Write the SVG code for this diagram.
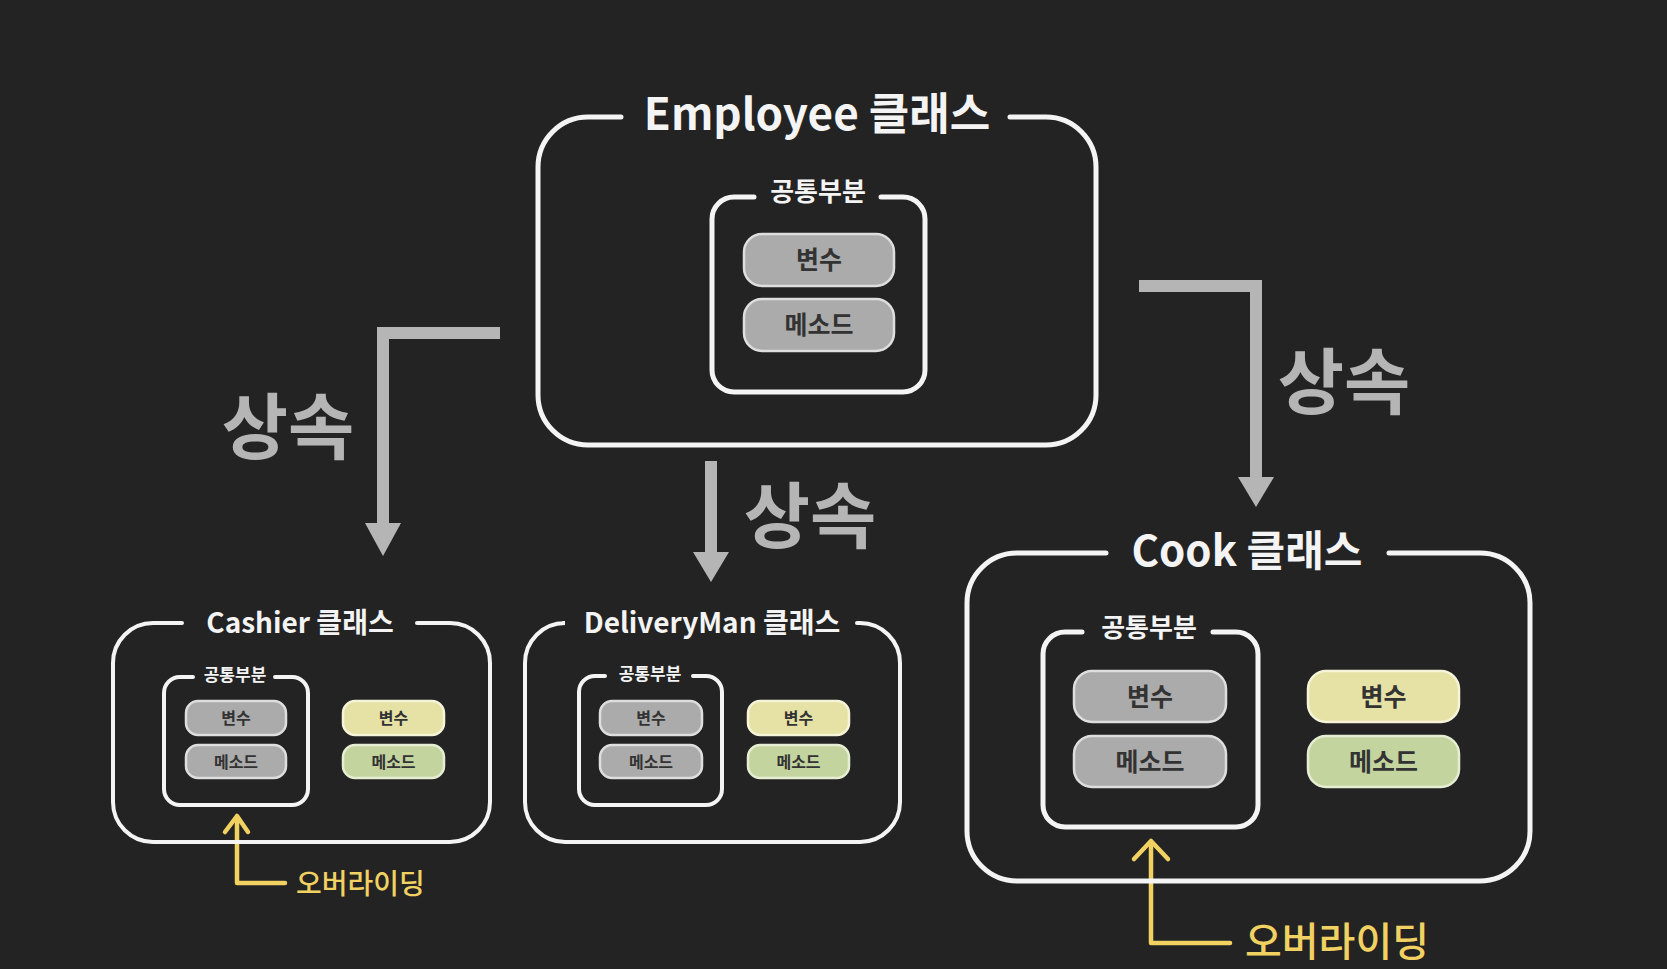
<svg xmlns="http://www.w3.org/2000/svg" width="1667" height="969" viewBox="0 0 1667 969">
<defs>
<style>
.bg{fill:#232323}
.frame{fill:none;stroke:#f4f4f4;stroke-width:5;stroke-linecap:round}
.frameS{fill:none;stroke:#f4f4f4;stroke-width:4;stroke-linecap:round}
.t{font-family:"Noto Sans CJK KR","Noto Sans",sans-serif;font-weight:700;fill:#f4f4f4;text-anchor:middle}
.pg{fill:#ababab;stroke:#dedede;stroke-width:2.5}
.py{fill:#e6e2a6;stroke:#f5f3d8;stroke-width:2.5}
.pgr{fill:#c4d49f;stroke:#e5edd2;stroke-width:2.5}
.pt{font-family:"Noto Sans CJK KR","Noto Sans",sans-serif;font-weight:700;fill:#333333;text-anchor:middle;dominant-baseline:central}
.conn{fill:none;stroke:#b5b5b5;stroke-width:12}
.head{fill:#b5b5b5}
.inh{font-family:"Noto Sans CJK KR","Noto Sans",sans-serif;font-weight:700;fill:#b5b5b5;text-anchor:middle;dominant-baseline:central;font-size:72px}
.ov{fill:none;stroke:#f1d162;stroke-width:4.5;stroke-linecap:round;stroke-linejoin:round}
.ovt{font-family:"Noto Sans CJK KR","Noto Sans",sans-serif;font-weight:500;fill:#f1d162;dominant-baseline:central}
</style>
</defs>
<rect class="bg" x="0" y="0" width="1667" height="969"/>

<g id="connectors">
  <path class="conn" d="M500,333 H383 V525"/>
  <polygon class="head" points="365,523 401,523 383,556"/>
  <path class="conn" d="M711,461 V554"/>
  <polygon class="head" points="693,552 729,552 711,582"/>
  <path class="conn" d="M1139,286 H1256 V479"/>
  <polygon class="head" points="1238,477 1274,477 1256,507"/>
  <text class="inh" x="288" y="421">상속</text>
  <text class="inh" x="810" y="510">상속</text>
  <text class="inh" x="1344" y="376">상속</text>
  <path class="ov" d="M237,817 V883 H285"/>
  <path class="ov" d="M225,832 L237,816 L248,832"/>
  <text class="ovt" x="296" y="882" font-size="28">오버라이딩</text>
  <path class="ov" d="M1151,842 V943 H1230"/>
  <path class="ov" d="M1134,859 L1151,841 L1168,859"/>
  <text class="ovt" x="1245" y="939" font-size="40">오버라이딩</text>
</g>

<g id="employee">
  <path class="frame" d="M1010,117 H1046 A50,50 0 0 1 1096,167 V395 A50,50 0 0 1 1046,445 H588 A50,50 0 0 1 538,395 V167 A50,50 0 0 1 588,117 H621"/>
  <text class="t" x="817" y="130" font-size="44">Employee 클래스</text>
  <path class="frame" d="M881,197 H903 A22,22 0 0 1 925,219 V370 A22,22 0 0 1 903,392 H734 A22,22 0 0 1 712,370 V219 A22,22 0 0 1 734,197 H754"/>
  <text class="t" x="818" y="201" font-size="26">공통부분</text>
  <rect class="pg" x="744" y="234" width="150" height="52" rx="18"/>
  <text class="pt" x="819" y="258" font-size="25">변수</text>
  <rect class="pg" x="744" y="299" width="150" height="52" rx="18"/>
  <text class="pt" x="819" y="323" font-size="25">메소드</text>
</g>

<g id="cashier">
  <path class="frameS" d="M417,623 H450 A40,40 0 0 1 490,663 V802 A40,40 0 0 1 450,842 H153 A40,40 0 0 1 113,802 V663 A40,40 0 0 1 153,623 H182"/>
  <text class="t" x="300" y="633" font-size="28">Cashier 클래스</text>
  <path class="frameS" d="M275,677 H292 A16,16 0 0 1 308,693 V789 A16,16 0 0 1 292,805 H180 A16,16 0 0 1 164,789 V693 A16,16 0 0 1 180,677 H193"/>
  <text class="t" x="235" y="681" font-size="17">공통부분</text>
  <rect class="pg" x="186" y="701" width="100" height="34" rx="12"/>
  <text class="pt" x="236" y="717" font-size="16">변수</text>
  <rect class="pg" x="186" y="745" width="100" height="33" rx="12"/>
  <text class="pt" x="236" y="760.5" font-size="16">메소드</text>
  <rect class="py" x="343" y="701" width="101" height="34" rx="12"/>
  <text class="pt" x="393.5" y="717" font-size="16">변수</text>
  <rect class="pgr" x="343" y="745" width="101" height="33" rx="12"/>
  <text class="pt" x="393.5" y="760.5" font-size="16">메소드</text>
</g>

<g id="deliveryman">
  <path class="frameS" d="M857,623 H860 A40,40 0 0 1 900,663 V802 A40,40 0 0 1 860,842 H565 A40,40 0 0 1 525,802 V663 A40,40 0 0 1 565,623 H563"/>
  <text class="t" x="712" y="633" font-size="28">DeliveryMan 클래스</text>
  <path class="frameS" d="M693,676 H706 A16,16 0 0 1 722,692 V789 A16,16 0 0 1 706,805 H595 A16,16 0 0 1 579,789 V692 A16,16 0 0 1 595,676 H605"/>
  <text class="t" x="650" y="680" font-size="17">공통부분</text>
  <rect class="pg" x="600" y="701" width="102" height="34" rx="12"/>
  <text class="pt" x="651" y="717" font-size="16">변수</text>
  <rect class="pg" x="600" y="745" width="102" height="33" rx="12"/>
  <text class="pt" x="651" y="760.5" font-size="16">메소드</text>
  <rect class="py" x="748" y="701" width="101" height="34" rx="12"/>
  <text class="pt" x="798.5" y="717" font-size="16">변수</text>
  <rect class="pgr" x="748" y="745" width="101" height="33" rx="12"/>
  <text class="pt" x="798.5" y="760.5" font-size="16">메소드</text>
</g>

<g id="cook">
  <path class="frame" d="M1389,553 H1480 A50,50 0 0 1 1530,603 V831 A50,50 0 0 1 1480,881 H1017 A50,50 0 0 1 967,831 V603 A50,50 0 0 1 1017,553 H1106"/>
  <text class="t" x="1247" y="566" font-size="42">Cook 클래스</text>
  <path class="frame" d="M1213,632 H1236 A22,22 0 0 1 1258,654 V805 A22,22 0 0 1 1236,827 H1065 A22,22 0 0 1 1043,805 V654 A22,22 0 0 1 1065,632 H1082"/>
  <text class="t" x="1149" y="637" font-size="26">공통부분</text>
  <rect class="pg" x="1074" y="671" width="152" height="51" rx="18"/>
  <text class="pt" x="1150" y="694.5" font-size="25">변수</text>
  <rect class="pg" x="1074" y="736" width="152" height="51" rx="18"/>
  <text class="pt" x="1150" y="759.5" font-size="25">메소드</text>
  <rect class="py" x="1308" y="671" width="151" height="51" rx="18"/>
  <text class="pt" x="1383.5" y="694.5" font-size="25">변수</text>
  <rect class="pgr" x="1308" y="736" width="151" height="51" rx="18"/>
  <text class="pt" x="1383.5" y="759.5" font-size="25">메소드</text>
</g>
</svg>
